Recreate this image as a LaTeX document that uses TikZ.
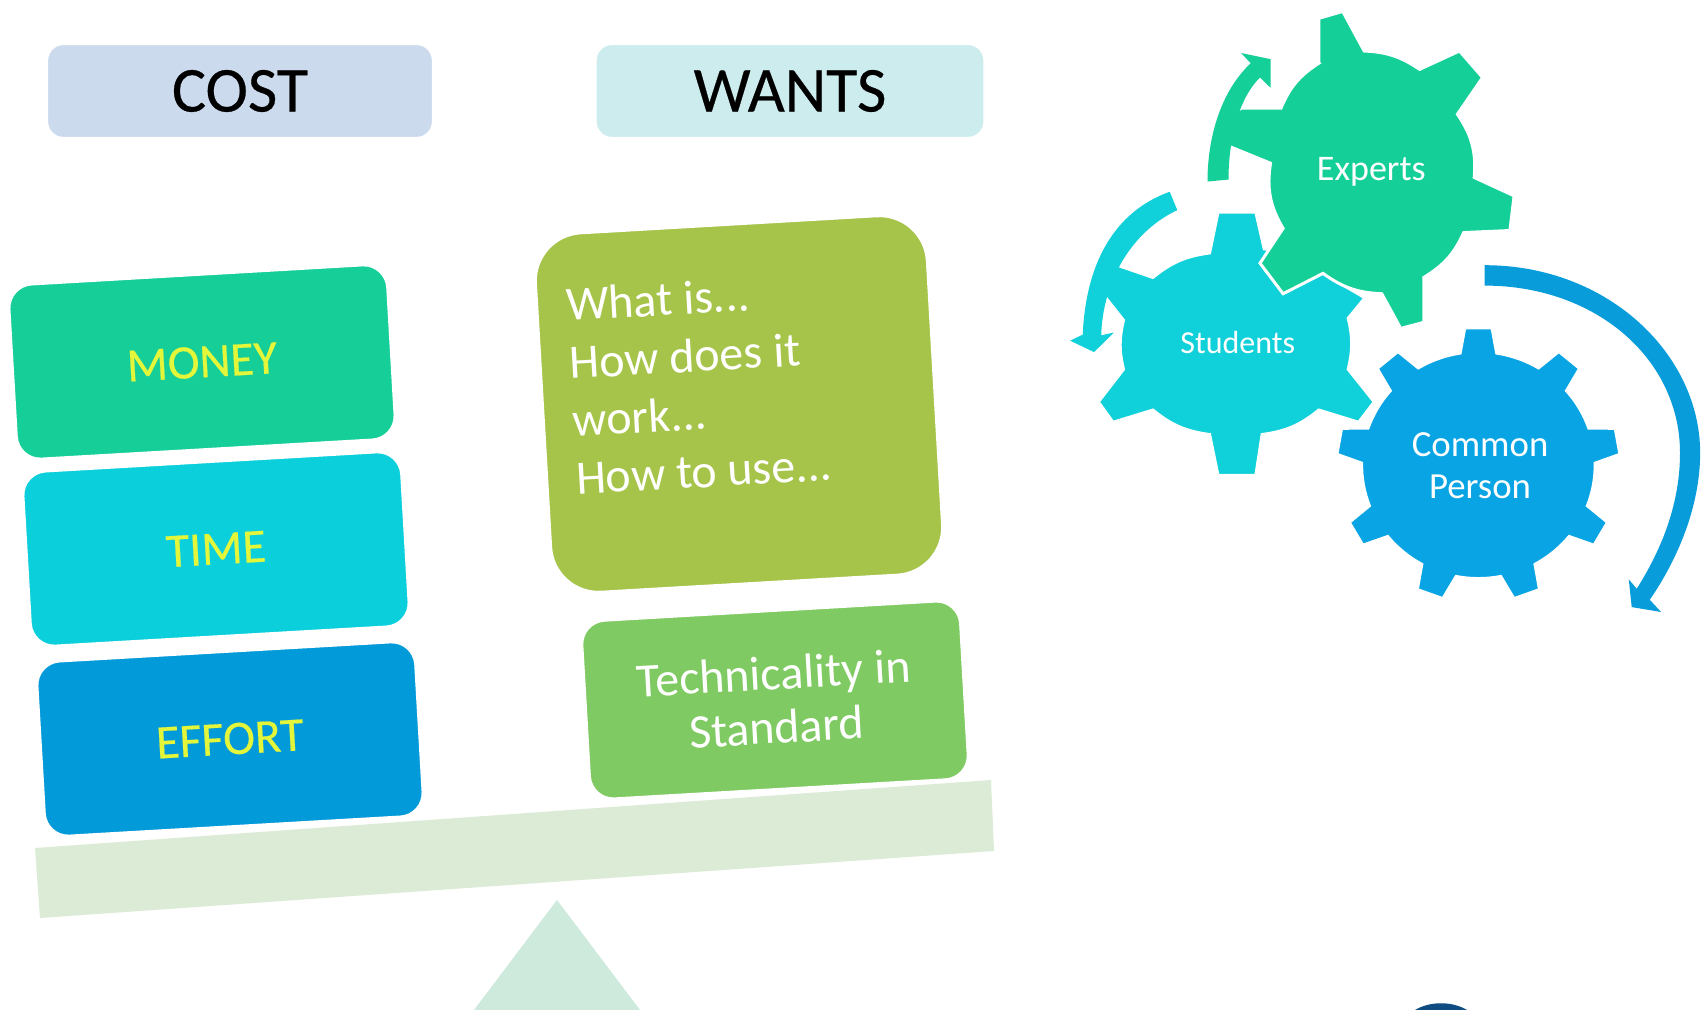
\documentclass[tikz,border=0pt]{standalone}
\usepackage{fontspec}
\setmainfont{Carlito}
\definecolor{cMoney}{HTML}{15CE98}
\definecolor{cTime}{HTML}{0BD0DC}
\definecolor{cEffort}{HTML}{039ADA}
\definecolor{cWhat}{HTML}{A6C44A}
\definecolor{cTech}{HTML}{7FCA62}
\definecolor{cBeam}{HTML}{DCEBD6}
\definecolor{cTri}{HTML}{CEEADD}
\definecolor{cCost}{HTML}{CBDAEC}
\definecolor{cWants}{HTML}{CDECEE}
\definecolor{cGearA}{HTML}{14CF97}
\definecolor{cGearB}{HTML}{10D0DA}
\definecolor{cGearC}{HTML}{08A4E4}
\definecolor{cArrowC}{HTML}{089DDA}
\definecolor{cYel}{HTML}{E4F63A}
\definecolor{cNavy}{HTML}{0F4C81}
\tikzset{
 topbox/.style={rounded corners=8pt,draw=white,line width=0.6pt,minimum height=46.5pt,inner sep=0pt,font=\fontsize{32}{36}\selectfont\addfontfeature{FakeBold=0.4},text=black},
 tiltbox/.style={rounded corners=12pt,draw=white,line width=1.5pt,minimum width=189.7pt,minimum height=87.7pt,inner sep=0pt,rotate=3.3,font=\fontsize{24}{28}\selectfont},
 gearshape/.style={draw=white,line width=1.5pt,line join=miter},
 gearlabel/.style={text=white,inner sep=0pt,align=center},
 yellowtext/.style={text=cYel,font=\fontsize{24}{28}\selectfont\addfontfeature{FakeBold=0.4}},
}
\begin{document}
\begin{tikzpicture}[x=0.5pt,y=-0.5pt]
\useasboundingbox (0,0) rectangle (1704,1010);
\fill[white] (0,0) rectangle (1704,1010);
% top boxes
\node[topbox,fill=cCost,minimum width=192.5pt] (cost) at (240,91) {COST};
\node[topbox,fill=cWants,minimum width=194pt] (wants) at (790,91) {WANTS};
% balance
\fill[cBeam] (35,848) -- (991,780) -- (994,851) -- (40,918) -- cycle;
\fill[cTri] (557,900) -- (474,1010) -- (640,1010) -- cycle;
% left stack
\node[tiltbox,fill=cMoney,yellowtext] (money) at (202,362) {MONEY};
\node[tiltbox,fill=cTime,yellowtext] (time) at (216,549) {TIME};
\node[tiltbox,fill=cEffort,yellowtext] (effort) at (230,739) {EFFORT};
% right stack
\node[tiltbox,fill=cWhat,minimum width=196.3pt,minimum height=180pt,rounded corners=24pt] (what) at (739,404) {};
\node[rotate=3.3,text=white,align=left,inner sep=0pt,font=\fontsize{24}{29}\selectfont] (whatlabel) at (699,384) {What is...\\How does it\\work...\\How to use...};
\node[tiltbox,fill=cTech,text=white,align=center,minimum height=89.5pt,font=\fontsize{24}{27}\selectfont] (tech) at (775,700) {Technicality in\\Standard};
% gears, in zoom-crop units
\begin{scope}[shift={(1050,0)},xscale=0.42,yscale=0.408]
 % Students
 \path[gearshape,fill=cGearB]
  (400,520) -- (490,520) -- (510,610) to[bend left=16] (650,670) -- (750,730) -- (710,780)
  to[bend left=13] (710,905) -- (772,985) -- (735,1035) -- (640,1005)
  to[bend left=16] (505,1065) -- (490,1165) -- (400,1165) -- (380,1065)
  to[bend left=16] (245,1005) -- (150,1035) -- (115,985) -- (175,905)
  to[bend left=13] (175,785) -- (125,720) -- (160,650) -- (245,680)
  to[bend left=16] (380,620) -- cycle;
 \fill[cGearB] (285,470) .. controls (150,520) and (85,650) .. (78,820) -- (48,835) -- (105,863) -- (152,815) -- (122,822) .. controls (125,695) and (190,570) .. (303,515) -- cycle;
 % Experts
 \path[gearshape,fill=cGearA]
  (640,155) -- (640,45) -- (697,28) -- (748,125)
  to[bend left=16] (880,170) -- (975,125) -- (1030,190) -- (970,280)
  to[bend left=19] (1010,435) -- (1105,480) -- (1095,565) -- (985,570)
  to[bend left=17] (890,680) -- (890,790) -- (835,805) -- (790,720)
  to[bend left=17] (650,670) -- (555,720) -- (500,645) -- (555,560)
  to[bend left=19] (525,400) -- (420,356) -- (420,290) -- (455,265) -- (550,265)
  to[bend left=17] cycle;
 \fill[cGearA] (375,445) .. controls (375,330) and (410,220) .. (478,155) -- (455,130) -- (525,145) -- (525,215) -- (500,190) .. controls (450,240) and (425,340) .. (425,440) -- cycle;
 % Common Person
 \begin{scope}[shift={(1020,1140)},yscale=-1]
  \path[gearshape,fill=cGearC] (99:278) \foreach \a in {90,50,10,-30,-70,-110,-150,-190,-230} {
    -- ({\a+9}:278) -- ({\a+5.5}:338) -- ({\a-5.5}:338) -- ({\a-9}:278)
    arc[start angle={\a-9},end angle={\a-31},radius=278]} -- cycle;
 \end{scope}
 \fill[cArrowC] (1035,650) .. controls (1330,650) and (1548,870) .. (1548,1110) .. controls (1548,1240) and (1495,1370) .. (1428,1470) -- (1455,1500) -- (1385,1488) -- (1378,1420) -- (1397,1443) .. controls (1460,1340) and (1500,1230) .. (1500,1110) .. controls (1500,880) and (1300,700) .. (1035,700) -- cycle;
 \node[gearlabel,font=\fontsize{18}{21}\selectfont] (experts) at (765,421) {Experts};
 \node[gearlabel,font=\fontsize{16}{19}\selectfont] (students) at (447,840) {Students};
 \node[gearlabel,font=\fontsize{18.4}{21}\selectfont] (common) at (1024,1142) {Common\\Person};
\end{scope}
\fill[cNavy] (1415,1010) .. controls (1430,1001) and (1452,1001) .. (1467,1010) -- cycle;
\end{tikzpicture}
\end{document}
